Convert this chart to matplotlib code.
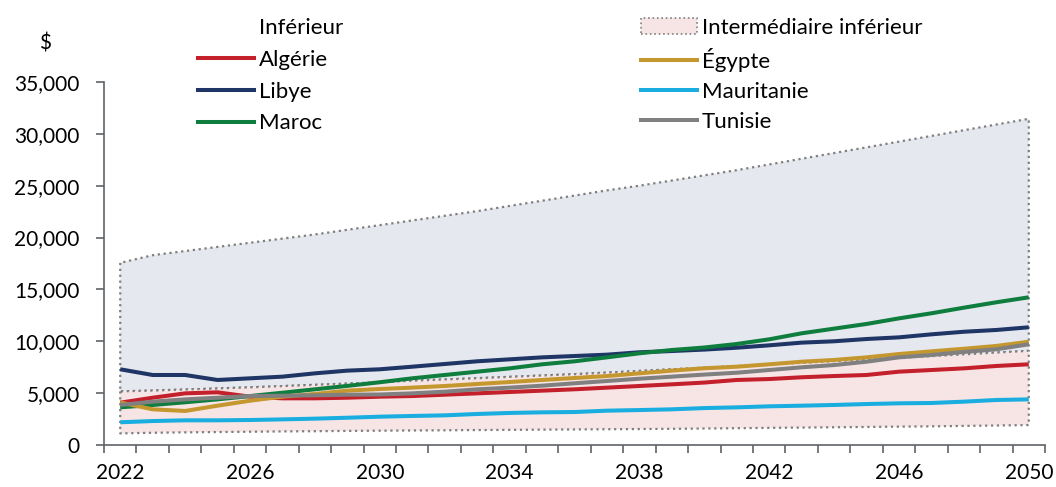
import numpy as np
import matplotlib
matplotlib.use("Agg")
import matplotlib.pyplot as plt
from matplotlib.patches import Patch
from matplotlib.lines import Line2D
from matplotlib.ticker import FuncFormatter

plt.rcParams['font.family'] = ['Lato', 'DejaVu Sans']

# %% Data (GDP per capita, $)
years = list(range(2022, 2051))

algerie = [4080, 4560, 4980, 5080, 4660, 4500, 4500, 4560, 4660, 4720, 4850, 4980, 5110, 5240, 5370,
           5530, 5690, 5850, 6020, 6270, 6360, 6530, 6650, 6750, 7070, 7230, 7390, 7620, 7780]
egypte = [4100, 3440, 3280, 3790, 4270, 4660, 4920, 5240, 5400, 5530, 5690, 5880, 6070, 6270, 6460,
          6650, 6910, 7170, 7400, 7550, 7780, 8030, 8200, 8450, 8770, 9030, 9280, 9550, 9960]
libye = [7300, 6750, 6750, 6270, 6430, 6590, 6910, 7170, 7300, 7550, 7810, 8070, 8260, 8450, 8580,
         8710, 8940, 9060, 9200, 9380, 9610, 9870, 10000, 10220, 10380, 10670, 10920, 11090, 11350]
mauritanie = [2190, 2310, 2380, 2380, 2410, 2470, 2540, 2630, 2730, 2800, 2860, 2990, 3090, 3150, 3180,
              3310, 3370, 3440, 3560, 3630, 3730, 3790, 3860, 3950, 4020, 4050, 4180, 4340, 4400]
maroc = [3630, 3860, 4120, 4400, 4720, 5040, 5370, 5700, 6050, 6430, 6750, 7070, 7390, 7780, 8070,
         8450, 8840, 9160, 9400, 9740, 10190, 10770, 11220, 11670, 12210, 12700, 13240, 13760, 14240]
tunisie = [3860, 4180, 4400, 4560, 4720, 4750, 4790, 4850, 4870, 4980, 5140, 5370, 5530, 5720, 5950,
           6170, 6390, 6590, 6790, 6970, 7230, 7490, 7710, 8030, 8450, 8680, 8970, 9230, 9710]

# income group bands
band_low = [1120, 1180, 1220, 1250, 1280, 1310, 1330, 1360, 1380, 1400, 1420, 1440, 1460, 1480, 1500,
            1520, 1540, 1560, 1590, 1620, 1650, 1680, 1710, 1740, 1770, 1800, 1840, 1880, 1920]
band_mid = [5170, 5250, 5350, 5450, 5560, 5680, 5800, 5920, 6040, 6200, 6320, 6440, 6570, 6700, 6830,
            6980, 7140, 7300, 7450, 7600, 7760, 7920, 8080, 8240, 8400, 8570, 8740, 8910, 9080]
band_high = [17560, 18300, 18700, 19100, 19500, 19900, 20300, 20750, 21200, 21650, 22100, 22550, 23050,
             23550, 24050, 24550, 25000, 25500, 26000, 26500, 27050, 27600, 28150, 28700, 29250, 29800,
             30350, 30900, 31450]

series = [("Algérie", algerie, "#C3202B"), ("Libye", libye, "#1F3566"), ("Maroc", maroc, "#0E7D3E"),
          ("Égypte", egypte, "#C4972F"), ("Mauritanie", mauritanie, "#1AADE0"), ("Tunisie", tunisie, "#808080")]

# %% Plot
fig = plt.figure(figsize=(10.56, 4.87), dpi=100)
ax = fig.add_axes([104/1056, 42/487, 941/1056, 363/487])

edge = "#7f7f7f"
ax.fill_between(years, band_mid, band_high, facecolor="#E5E8EE", edgecolor=edge, linestyle=":", linewidth=1.6, zorder=1)
ax.fill_between(years, band_low, band_mid, facecolor="#F7E5E6", edgecolor=edge, linestyle=":", linewidth=1.6, zorder=1)

for name, vals, col in series:
    ax.plot(years, vals, color=col, lw=2.9, zorder=3, solid_capstyle="butt")

ax.set_xlim(2021.5, 2050.5)
ax.set_ylim(0, 35000)
ax.set_yticks(range(0, 35001, 5000))
ax.yaxis.set_major_formatter(FuncFormatter(lambda v, p: f"{int(v):,}"))
ax.set_xticks(range(2022, 2051, 4))
ax.set_xticks(np.arange(2021.5, 2051, 1), minor=True)

axcol = "#5f6368"
for s in ["top", "right"]:
    ax.spines[s].set_visible(False)
for s in ["left", "bottom"]:
    ax.spines[s].set_color(axcol)
    ax.spines[s].set_linewidth(1.2)
ax.tick_params(axis="x", which="major", length=0, pad=13, labelsize=15)
ax.tick_params(axis="x", which="minor", length=5.5, width=1.2, color=axcol, direction="out")
ax.tick_params(axis="y", length=5.5, width=1.2, color=axcol, pad=12, labelsize=15)

fig.text(45/1056, 1 - 43/487, "$", fontsize=15, ha="center", va="center")

# legend, two columns drawn as two legends so the rows line up
leg_kw = dict(frameon=False, loc="upper left", fontsize=16, handlelength=2.5, handletextpad=0.25,
              borderpad=0, borderaxespad=0)
h1 = [Patch(facecolor="none", edgecolor="none")] + [Line2D([], [], color=c, lw=2.9) for n, v, c in series[:3]]
h2 = [Patch(facecolor="#F7E5E6", edgecolor=edge, linestyle=":", linewidth=1.2)] + \
     [Line2D([], [], color=c, lw=2.9) for n, v, c in series[3:]]
fig.legend(h1, ["Inférieur"] + [n for n, v, c in series[:3]],
           bbox_to_anchor=(198/1056, 1 - 18/487), labelspacing=0.53, **leg_kw)
fig.legend(h2, ["Intermédiaire inférieur"] + [n for n, v, c in series[3:]],
           bbox_to_anchor=(641/1056, 1 - 18/487), labelspacing=0.45, **leg_kw)

fig.savefig("out.png", dpi=100)
